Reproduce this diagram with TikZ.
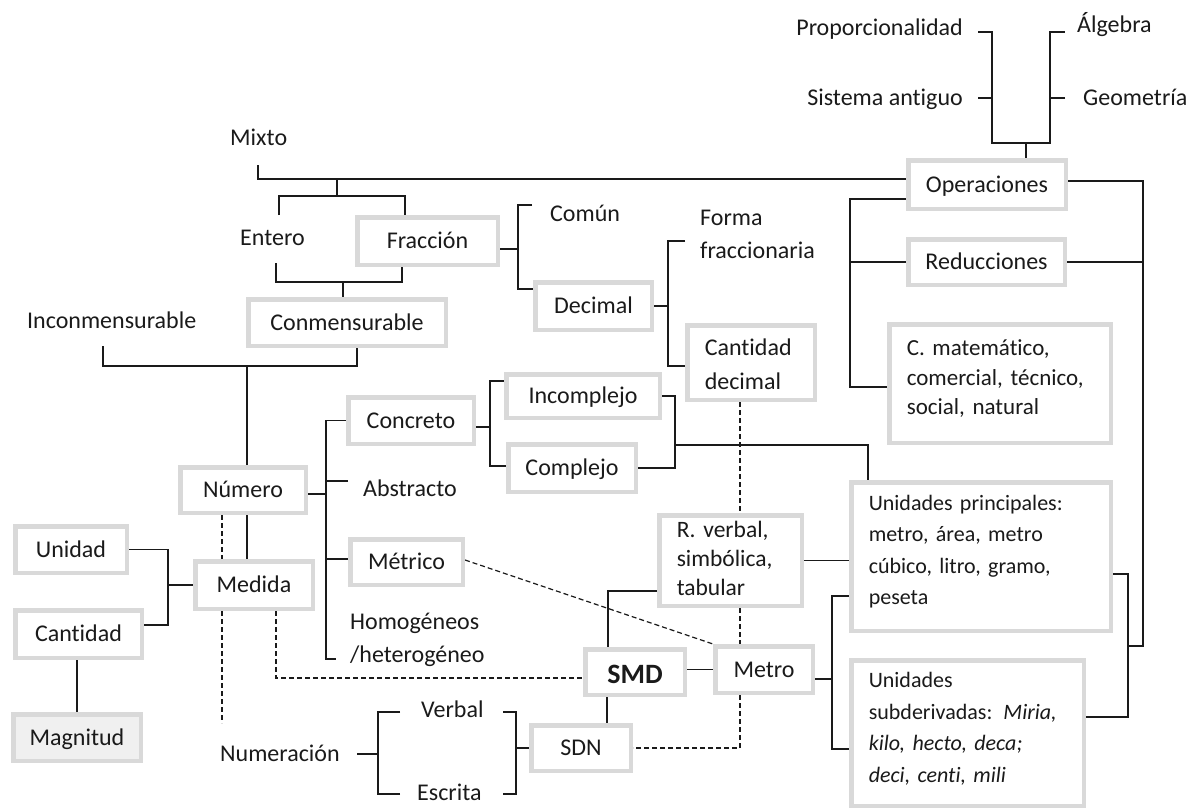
\documentclass[tikz,border=0pt]{standalone}
\usepackage{fontspec}
\setmainfont{Carlito}[Ligatures=NoCommon]
\usetikzlibrary{backgrounds,calc}
\hyphenpenalty=10000
\exhyphenpenalty=10000

\definecolor{boxgray}{HTML}{D9D9D9}
\definecolor{magfill}{HTML}{F0F0F0}
\definecolor{ink}{HTML}{1A1A1A}
% extra depth below the last line of a multi-line box, closing its paragraph
\newcommand{\lastpad}[1]{\rule[-#1]{0pt}{#1}\par}
% left indent of the text inside a multi-line box
\newcommand{\boxindent}{\leftskip=17.5pt\relax}

\begin{document}
\begin{tikzpicture}[x=1pt,y=-1pt,
  every node/.style={font=\fontsize{24}{30}\selectfont, text=ink},
  box/.style={draw=boxgray, line width=4.5pt, fill=white, inner sep=0pt,
              text height=18pt, text depth=3pt},
  tbox/.style={draw=boxgray, line width=4.5pt, fill=white, inner sep=0pt,
               align=left},
  lbl/.style={inner sep=0pt},
  link/.style={draw=ink, line width=1.2pt},
  dlink/.style={link, dash pattern=on 5pt off 3pt},
]
\useasboundingbox (0,0) rectangle (1189,809);

% ---------- boxed concepts ----------
\node[box, minimum width=157.5pt, minimum height=48.5pt] (oper)  at (987,184.5) {Operaciones};
\node[box, minimum width=156.5pt, minimum height=45.5pt] (reduc) at (986.5,262) {Reducciones};
\node[tbox, minimum width=221.5pt, minimum height=118.5pt, text width=221.5pt,
      font=\fontsize{23}{29.5}\selectfont] (cmat) at (1000,383.5)
      {\boxindent\strut C. matemático,\\comercial, técnico,\\social, natural\lastpad{17.65pt}};
\node[tbox, minimum width=259.5pt, minimum height=148.5pt, text width=259.5pt,
      font=\fontsize{22}{31.3}\selectfont] (upr) at (981,556.5)
      {\boxindent\strut Unidades principales:\\metro, área, metro\\cúbico, litro, gramo,\\peseta\lastpad{20pt}};
\node[tbox, minimum width=232.5pt, minimum height=145.5pt, text width=232.5pt,
      font=\fontsize{22}{31.7}\selectfont] (usub) at (967.5,733)
      {\boxindent\strut Unidades\\subderivadas: \textit{Miria,}\\\textit{kilo, hecto, deca;}\\\textit{deci, centi, mili}\lastpad{18.1pt}};
\node[tbox, minimum width=142.5pt, minimum height=90.5pt, text width=142.5pt,
      font=\fontsize{23.5}{29}\selectfont] (rverb) at (730.5,560.5)
      {\boxindent\strut R. verbal,\\simbólica,\\tabular\lastpad{9.3pt}};
\node[tbox, minimum width=127.5pt, minimum height=74.5pt, text width=127.5pt,
      font=\fontsize{24}{34}\selectfont] (cdec) at (751,362.5)
      {\boxindent\strut Cantidad\\decimal\lastpad{4.8pt}};
\node[box, minimum width=116.5pt, minimum height=47.5pt] (decim) at (593.5,306) {Decimal};
\node[box, minimum width=140.5pt, minimum height=47.5pt] (frac)  at (427.5,241) {Fracción};
\node[box, minimum width=197.5pt, minimum height=46.5pt] (conm)  at (347,322.5) {Conmensurable};
\node[box, minimum width=125.5pt, minimum height=45.5pt] (num)   at (243,490) {Número};
\node[box, minimum width=125.5pt, minimum height=46.5pt] (conc)  at (411,420.5) {Concreto};
\node[box, minimum width=153.5pt, minimum height=43.5pt] (incom) at (583,396) {Incomplejo};
\node[box, minimum width=127.5pt, minimum height=47.5pt] (compl) at (572,468) {Complejo};
\node[box, minimum width=112.5pt, minimum height=45.5pt] (metr)  at (406.5,562) {Métrico};
\node[box, minimum width=117.5pt, minimum height=47.5pt] (med)   at (254,585) {Medida};
\node[box, minimum width=111.5pt, minimum height=46.5pt] (unid)  at (71,549.5) {Unidad};
\node[box, minimum width=126.5pt, minimum height=47.5pt] (cant)  at (78.5,634) {Cantidad};
\node[box, fill=magfill, minimum width=127.5pt, minimum height=46.5pt] (magn) at (77,737.5) {Magnitud};
\node[box, minimum width=99.5pt, minimum height=45.5pt, text height=22pt, text depth=0pt,
      font=\fontsize{28}{34}\selectfont\bfseries] (smd) at (635,672) {SMD};
\node[box, minimum width=97.5pt, minimum height=46.5pt] (metro) at (764,669.5) {Metro};
\node[box, minimum width=99.5pt, minimum height=45.5pt] (sdn)   at (581,748) {SDN};

% ---------- free labels ----------
\node[lbl, anchor=base east] (prop)   at (963,35)  {Proporcionalidad};
\node[lbl, anchor=base east] (sist)   at (963,105) {Sistema antiguo};
\node[lbl, anchor=base west] (alg)    at (1077,32) {Álgebra};
\node[lbl, anchor=base west] (geo)    at (1083,105) {Geometría};
\node[lbl, anchor=base west] (mixto)  at (230,145) {Mixto};
\node[lbl, anchor=base west] (entero) at (240,245) {Entero};
\node[lbl, anchor=base west] (inconm) at (27,328)  {Inconmensurable};
\node[lbl, anchor=base west] (comun)  at (550,221) {Común};
\node[lbl, anchor=north west, align=left, font=\fontsize{24}{33}\selectfont] (forma)
      at (700,201.9) {\strut Forma\\fraccionaria};
\node[lbl, anchor=base west] (abst)   at (363,496) {Abstracto};
\node[lbl, anchor=north west, align=left, font=\fontsize{24}{33}\selectfont] (homog)
      at (350,605.9) {\strut Homogéneos\\/heterogéneo};
\node[lbl, anchor=base west] (numer)  at (220,761) {Numeración};
\node[lbl, anchor=base west] (verbal) at (421,717) {Verbal};
\node[lbl, anchor=base west] (escr)   at (417,800) {Escrita};

% ---------- junction points ----------
\coordinate (ptick) at (978,32);   \coordinate (stick) at (978,98);
\coordinate (lspineB) at (992,143); \coordinate (rspineB) at (1050,143);
\coordinate (atick) at (1065,32);  \coordinate (gtick) at (1065,98);
\coordinate (opstem) at (1026,143);
\coordinate (mixtoEnd) at (258,165);
\coordinate (mxj) at (337,180);    \coordinate (efj) at (337,196);
\coordinate (entTop) at (279,215); \coordinate (entBot) at (276,263);
\coordinate (ecj) at (343,282);
\coordinate (incBot) at (103,346); \coordinate (cnj) at (247,366);
\coordinate (nbTop) at (326,420.5); \coordinate (nbBot) at (326,659);
\coordinate (homTick) at (336,659); \coordinate (abTick) at (348,481);
\coordinate (ccj) at (490,427);    \coordinate (icj) at (675,445);
\coordinate (fdj) at (518,249);    \coordinate (comTick) at (532,205);
\coordinate (dcj) at (668,306);    \coordinate (formTick) at (685,241);
\coordinate (opbar) at (850,199);
\coordinate (rbar) at (1143,181);  \coordinate (ubar) at (1128,646);
\coordinate (mbj) at (832,679);
\coordinate (numerTop) at (222,723);
\coordinate (ucj) at (168,585);
\coordinate (nmj) at (378,754);    \coordinate (nmTick) at (357,754);
\coordinate (vbL) at (400,712);    \coordinate (esL) at (400,794);
\coordinate (sdj) at (516,748);
\coordinate (vbR) at (503,712);    \coordinate (esR) at (503,794);

% ---------- connectors ----------
\begin{pgfonlayer}{background}
% Proporcionalidad / Sistema antiguo / Álgebra / Geometría
\draw[link] (ptick) -| (lspineB) -- (rspineB) |- (atick);
\draw[link] (stick) -- (stick -| lspineB);
\draw[link] (gtick) -- (gtick -| rspineB);
\draw[link] (opstem) -- (opstem |- oper.north);

% Mixto, Entero, Fracción, Conmensurable
\draw[link] (mixtoEnd) |- ([yshift=5.5pt]oper.west);
\draw[link] (mxj) -- (efj);
\draw[link] (entTop) |- (efj) -| ([xshift=-22.5pt]frac.north);
\draw[link] (entBot) |- (ecj) -| ([xshift=-25.5pt]frac.south);
\draw[link] (ecj) -- ([xshift=-4pt]conm.north);
\draw[link] (incBot) |- (cnj) -| ([xshift=10pt]conm.south);
\draw[link] (cnj) -- ([xshift=4pt]num.north);

% Número and Medida
\draw[link] ([xshift=4pt]num.south) -- ([xshift=-7pt]med.north);
\draw[dlink] ([xshift=-21pt]num.south) -- ([xshift=-32pt]med.north);
\draw[link] (conc.west) -- (nbTop) -- (nbBot) -- (homTick);
\draw[link] ([yshift=-4pt]num.east) -- ([yshift=-4pt]num.east -| nbTop);
\draw[link] (abTick) -- (abTick -| nbTop);
\draw[link] ([yshift=3pt]metr.west) -- ([yshift=3pt]metr.west -| nbTop);

% Concreto, Incomplejo, Complejo
\draw[link] ([yshift=-6.5pt]conc.east) -- (ccj);
\draw[link] ([yshift=15pt]incom.west) -| (ccj);
\draw[link] ([yshift=2pt]compl.west) -| (ccj);
\draw[link] (incom.east) -| (icj);
\draw[link] (compl.east) -| (icj);
\draw[link] (icj) -| ([xshift=-113pt]upr.north);

% Fracción, Común, Decimal
\draw[link] ([yshift=-8pt]frac.east) -- (fdj);
\draw[link] (comTick) -| (fdj);
\draw[link] ([yshift=17pt]decim.west) -| (fdj);
\draw[link] (decim.east) -- (dcj);
\draw[link] (formTick) -| (dcj);
\draw[link] ([yshift=-3.5pt]cdec.west) -| (dcj);

% Operaciones, Reducciones, C. matemático
\draw[link] ([yshift=-14.5pt]oper.west) -- (opbar) |- ([yshift=-3.5pt]cmat.west);
\draw[link] (reduc.west) -- (reduc.west -| opbar);
\draw[link] ([yshift=3.5pt]oper.east) -- (rbar) |- (ubar);
\draw[link] (reduc.east) -- (reduc.east -| rbar);
\draw[link] ([yshift=-17.5pt]upr.east) -| (ubar);
\draw[link] ([yshift=16pt]usub.east) -| (ubar);

% representations, SMD, Metro, SDN
\draw[dlink] ([xshift=-11pt]cdec.south) -- ([xshift=9.5pt]rverb.north);
\draw[dlink] ([xshift=9.5pt]rverb.south) -- ([xshift=-24pt]metro.north);
\draw[dlink] ([xshift=-24pt]metro.south) |- (sdn.east);
\draw[dlink] ([yshift=2pt]metr.east) -- (metro.north west);
\draw[dlink] ([xshift=-32pt]med.south) -- (numerTop);
\draw[dlink] ([xshift=22pt]med.south) |- ([yshift=-6pt]smd.west);
\draw[link] (rverb.east) -- (rverb.east -| upr.west);
\draw[link] ([yshift=-30.5pt]rverb.west) -| ([xshift=-27pt]smd.north);
\draw[link] (metro.west) -- (metro.west -| smd.east);
\draw[link] ([xshift=-28pt]smd.south) -- ([xshift=26pt]sdn.north);
\draw[link] ([yshift=-9.5pt]metro.east) -- (mbj);
\draw[link] ([yshift=-39.5pt]upr.west) -| (mbj);
\draw[link] ([yshift=-16pt]usub.west) -| (mbj);

% Unidad, Cantidad, Magnitud
\draw[link] (unid.east) -| (ucj);
\draw[link] ([yshift=9pt]cant.east) -| (ucj);
\draw[link] (med.west) -- (ucj);
\draw[link] (magn.north) -- (magn.north |- cant.south);

% Numeración, Verbal, Escrita, SDN
\draw[link] (nmTick) -- (nmj);
\draw[link] (vbL) -| (nmj);
\draw[link] (esL) -| (nmj);
\draw[link] (sdn.west) -- (sdj);
\draw[link] (vbR) -| (sdj);
\draw[link] (esR) -| (sdj);
\end{pgfonlayer}
\end{tikzpicture}
\end{document}
